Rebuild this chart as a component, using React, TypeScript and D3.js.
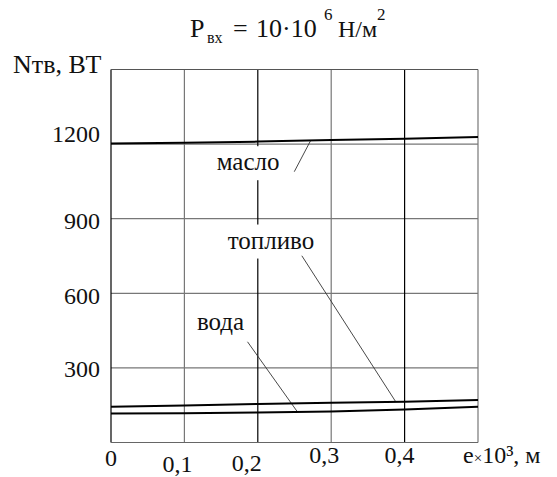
import React from "react";
import * as d3 from "d3";

const eValues = [0, 0.1, 0.2, 0.3, 0.4, 0.5];
const masloSeries = [1202, 1205, 1210, 1216, 1222, 1229];
const toplivoSeries = [144, 149, 155, 160, 164, 171];
const vodaSeries = [117, 118, 121, 125, 133, 144];

const xTicks = [0, 0.1, 0.2, 0.3, 0.4];
const xTickLabels = ["0", "0,1", "0,2", "0,3", "0,4"];
const xTickDx = [0, -7, -11, -7, -5];
const xTickDy = [0, 6, 5, -3, -3];
const yTicks = [300, 600, 900, 1200];
const yTickLabels = ["300", "600", "900", "1200"];
const yTickDy = [0, 2, 1, -11];
const xGridDark = [false, false, true, false, true, false];

const annotationNames = ["масло", "топливо", "вода"];
const annotationLabelE = [0.144, 0.159, 0.117];
const annotationLabelV = [1095, 780, 452];
const annotationFromE = [0.2497, 0.26, 0.186];
const annotationFromV = [1089, 751, 405];
const annotationToE = [0.272, 0.388, 0.254];

const W = 557;
const H = 477;
const FONT = "'Liberation Serif', 'DejaVu Serif', 'Times New Roman', serif";
const tStyle = { fontFamily: FONT } as React.CSSProperties;

export default function App() {
  const x = d3.scaleLinear().domain([0, 0.5]).range([111, 478]);
  const y = d3.scaleLinear().domain([0, 1500]).range([442.5, 69.5]);
  const series = [masloSeries, toplivoSeries, vodaSeries];
  const line = d3
    .line<number>()
    .x((_, i) => x(eValues[i]))
    .y((d) => y(d));
  const interp = (s: number[], e: number) => {
    const f = d3.scaleLinear().domain(eValues).range(s);
    return f(e);
  };
  const labelWidths = [68, 92, 54];

  return (
    <svg
      width={W}
      height={H}
      style={{ position: "absolute", left: 0, top: 0, background: "#fff", fontFamily: FONT }}
    >
      <rect x={0} y={0} width={W} height={H} fill="#fff" />
      {yTicks.map((t) => (
        <line key={"hy" + t} x1={x(0)} x2={x(0.5)} y1={y(t)} y2={y(t)} stroke="#777" strokeWidth={1.2} />
      ))}
      {eValues.map((e, i) => (
        <line
          key={"vx" + e}
          x1={x(e)}
          x2={x(e)}
          y1={y(0)}
          y2={y(1500)}
          stroke={xGridDark[i] || i === 0 ? "#000" : "#777"}
          strokeWidth={1.2}
        />
      ))}
      <line x1={x(0)} x2={x(0.5)} y1={y(1500)} y2={y(1500)} stroke="#555" strokeWidth={1.2} />
      <line x1={x(0)} x2={x(0.5)} y1={y(0)} y2={y(0)} stroke="#666" strokeWidth={1.2} />

      {annotationNames.map((n, i) => (
        <rect
          key={"bg" + n}
          x={x(annotationLabelE[i]) - 4}
          y={y(annotationLabelV[i]) - 24}
          width={labelWidths[i] + 8}
          height={34}
          fill="#fff"
        />
      ))}

      {annotationNames.map((n, i) => (
        <line
          key={"ld" + n}
          x1={x(annotationFromE[i])}
          y1={y(annotationFromV[i])}
          x2={x(annotationToE[i])}
          y2={y(interp(series[i], annotationToE[i]))}
          stroke="#333"
          strokeWidth={0.9}
        />
      ))}

      {series.map((s, i) => (
        <path key={"s" + i} d={line(s) || ""} fill="none" stroke="#000" strokeWidth={2} />
      ))}

      {annotationNames.map((n, i) => (
        <text key={"tx" + n} x={x(annotationLabelE[i])} y={y(annotationLabelV[i])} fontSize={25} fill="#111" style={tStyle}>
          {n}
        </text>
      ))}

      {yTicks.map((t, i) => (
        <text
          key={"yl" + t}
          x={100}
          y={y(t) + 9 + yTickDy[i]}
          fontSize={24}
          textAnchor="end"
          fill="#111"
          style={tStyle}
        >
          {yTickLabels[i]}
        </text>
      ))}
      {xTicks.map((t, i) => (
        <text
          key={"xl" + t}
          x={x(t) + xTickDx[i]}
          y={466 + xTickDy[i]}
          fontSize={24}
          textAnchor="middle"
          fill="#111"
          style={tStyle}
        >
          {xTickLabels[i]}
        </text>
      ))}
      <text x={463} y={463} fontSize={24} fill="#111" style={tStyle}>
        е<tspan fontSize={15}>×</tspan>10³, м
      </text>

      <text x={13} y={73} fontSize={26} fill="#111" style={tStyle}>
        Nтв, ВТ
      </text>

      <text y={36.7} fontSize={26} fill="#111" style={tStyle}>
        <tspan x={190}>P</tspan>
        <tspan x={207} y={43} fontSize={16}>вх</tspan>
        <tspan x={233} y={36.7}>=</tspan>
        <tspan x={256}>10·10</tspan>
        <tspan x={324} y={20} fontSize={17}>6</tspan>
        <tspan x={338} y={36.7} fontSize={24}>Н/м</tspan>
        <tspan x={377} y={20} fontSize={17}>2</tspan>
      </text>
    </svg>
  );
}
